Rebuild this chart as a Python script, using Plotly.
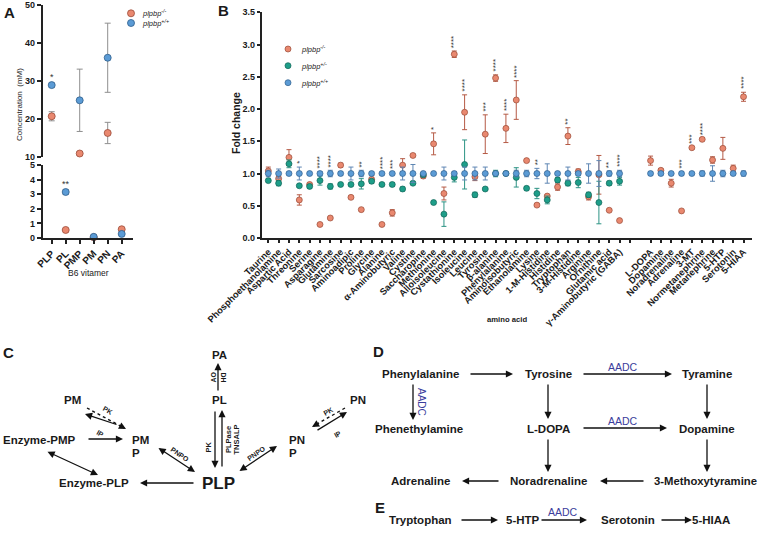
import math
import plotly.graph_objects as go

# ============================ DATA ============================
# Panel A : B6 vitamers (concentration, mM)
vitamers = ["PLP", "PL", "PMP", "PM", "PN", "PA"]
a_ko = [20.8, 0.55, 11.0, 0.05, 16.4, 0.60]
a_ko_err = [1.2, 0.05, 0.5, 0.02, 2.8, 0.06]
a_wt = [29.0, 3.15, 25.0, 0.08, 36.2, 0.28]
a_wt_err = [0.5, 0.15, 8.2, 0.02, 9.1, 0.06]
a_stars = ["*", "**", "", "", "", ""]
a_upper_ticks = [10, 20, 30, 40, 50]
a_lower_ticks = [0, 1, 2, 3, 4, 5]

# Panel B : amino acids (fold change)
aa_names = ["Taurine", "Phosphoethanolamine", "Aspartic Acid", "Threonine", "Serine",
            "Asparagine", "Glutamine", "Sarcosine", "Aminoadipic", "Proline", "Glycine",
            "Alanine", "α-Aminobutyric", "Valine", "Cystine", "Saccharopine", "Methionine",
            "Alloisoleucine", "Cystathionine", "Isoleucine", "Leucine", "Tyrosine",
            "β-alanine", "Phenylalanine", "Aminoisobutyric", "Ethanolamine", "Lysine",
            "1-M-Histidine", "Histidine", "Tryptophan", "3-M-Histidine", "Arginine",
            "Ornithine", "Glutamic acid", "γ-Aminobutyric (GABA)"]
aa_ko = [1.04, 0.92, 1.25, 0.59, 0.83, 0.21, 0.31, 1.13, 0.63, 0.44, 0.91, 0.21, 0.39,
         1.13, 1.28, 0.96, 1.46, 0.69, 2.85, 1.95, 0.95, 1.61, 2.48, 1.70, 2.14, 1.20,
         0.51, 0.65, 0.79, 1.58, 1.03, 0.64, 0.98, 0.43, 0.27]
aa_ko_err = [0.06, 0.04, 0.12, 0.08, 0.02, 0.01, 0.02, 0.03, 0.02, 0.02, 0.06, 0.01, 0.05,
             0.10, 0.02, 0.03, 0.17, 0.10, 0.05, 0.27, 0.06, 0.30, 0.05, 0.22, 0.30, 0.02,
             0.02, 0.02, 0.05, 0.13, 0.04, 0.05, 0.30, 0.01, 0.01]
aa_het = [0.89, 0.85, 1.15, 0.81, 0.80, 0.89, 0.80, 0.83, 0.83, 0.84, 0.88, 0.83, 0.83,
          0.76, 0.85, 0.98, 0.55, 0.37, 0.94, 1.14, 0.67, 0.76, 1.00, 1.00, 0.94, 0.77,
          0.69, 0.59, 0.90, 0.85, 0.86, 0.67, 0.55, 0.85, 0.88]
aa_het_err = [0.02, 0.04, 0.06, 0.02, 0.03, 0.07, 0.04, 0.02, 0.02, 0.08, 0.03, 0.02, 0.03,
              0.03, 0.02, 0.03, 0.02, 0.19, 0.07, 0.38, 0.04, 0.02, 0.05, 0.02, 0.15, 0.03,
              0.08, 0.06, 0.04, 0.04, 0.08, 0.04, 0.33, 0.03, 0.06]
aa_wt = [1.0, 1.0, 1.0, 1.0, 1.0, 1.0, 1.0, 1.0, 1.0, 1.0, 1.0, 1.0, 1.0, 1.0, 1.0, 1.0,
         1.0, 1.0, 1.0, 1.0, 1.0, 1.0, 1.0, 1.0, 1.0, 1.0, 1.0, 1.0, 1.0, 1.0, 1.0, 1.0,
         1.0, 1.0, 1.0]
aa_wt_err = [0.05, 0.07, 0.02, 0.10, 0.02, 0.03, 0.05, 0.03, 0.10, 0.05, 0.03, 0.02, 0.02,
             0.10, 0.14, 0.02, 0.02, 0.10, 0.03, 0.10, 0.10, 0.10, 0.03, 0.02, 0.05, 0.05,
             0.08, 0.15, 0.02, 0.10, 0.03, 0.15, 0.20, 0.04, 0.05]
aa_stars = ["", "", "", "*", "", "****", "****", "", "", "**", "", "****", "***", "", "",
            "", "*", "", "****", "****", "", "***", "****", "****", "****", "", "**", "",
            "", "**", "", "", "", "**", "****"]

# Panel B : neurotransmitters (fold change)
nt_names = ["L-DOPA", "Dopamine", "Noradrenaline", "Adrenaline", "3-MT",
            "Normetanephrine", "Metanephrine", "5-HTP", "Serotonin", "5-HIAA"]
nt_ko = [1.20, 1.05, 0.85, 0.42, 1.40, 1.53, 1.21, 1.39, 1.08, 2.19]
nt_ko_err = [0.07, 0.02, 0.06, 0.02, 0.02, 0.02, 0.05, 0.17, 0.05, 0.07]
nt_wt = [1.0, 1.0, 1.0, 1.0, 1.0, 1.0, 1.0, 1.0, 1.0, 1.0]
nt_wt_err = [0.03, 0.02, 0.01, 0.03, 0.01, 0.04, 0.12, 0.05, 0.02, 0.04]
nt_stars = ["", "", "", "***", "***", "****", "", "", "", "****"]
b_yticks = [0.0, 0.5, 1.0, 1.5, 2.0, 2.5, 3.0, 3.5]

# ============================ STYLE ============================
FONT = "Liberation Sans, Arial, Helvetica, sans-serif"
RED, RED_E, RED_BAR = "#E9886F", "#9A4A37", "#B55A45"
BLUE, BLUE_E, BLUE_BAR = "#5B9BD5", "#2F5E8C", "#5E86B3"
TEAL, TEAL_E, TEAL_BAR = "#1E9E89", "#116458", "#2C9384"
GREY_BAR = "#8F8F8F"
AXC = "#222222"
W, H = 760, 538

fig = go.Figure()

# ============================ PANEL A ============================
xa = list(range(len(vitamers)))
for vals, errs, fill, edge in [(a_ko, a_ko_err, RED, RED_E), (a_wt, a_wt_err, BLUE, BLUE_E)]:
    for xr, yr, lo, hi in [("x", "y", 10, 60), ("x2", "y2", -1, 5)]:
        v = [val if lo <= val <= hi else None for val in vals]
        fig.add_trace(go.Scatter(
            x=xa, y=v, xaxis=xr, yaxis=yr, mode="markers", showlegend=False,
            cliponaxis=False,
            marker=dict(size=7, color=fill, line=dict(color=edge, width=0.8)),
            error_y=dict(type="data", array=errs, color=GREY_BAR, thickness=1, width=3)))

annotations = []
for i, s in enumerate(a_stars):
    if not s:
        continue
    top = max(a_ko[i] + a_ko_err[i], a_wt[i] + a_wt_err[i])
    yr = "y" if top >= 10 else "y2"
    xr = "x" if top >= 10 else "x2"
    annotations.append(dict(x=i, y=top, xref=xr, yref=yr, text=s, showarrow=False,
                            yanchor="bottom", yshift=-1,
                            font=dict(family=FONT, size=9, color="#333")))

# ============================ PANEL B ============================
n_aa = len(aa_names)
x_aa = list(range(n_aa))
x_nt = [n_aa + 2 + i for i in range(len(nt_names))]
b_x = x_aa + x_nt
b_ko = aa_ko + nt_ko
b_ko_err = aa_ko_err + nt_ko_err
b_wt = aa_wt + nt_wt
b_wt_err = aa_wt_err + nt_wt_err

fig.add_trace(go.Scatter(
    x=b_x, y=b_ko, xaxis="x3", yaxis="y3", mode="markers", showlegend=False, cliponaxis=False,
    marker=dict(size=6, color=RED, line=dict(color=RED_E, width=0.7)),
    error_y=dict(type="data", array=b_ko_err, color=RED_BAR, thickness=1, width=2.5)))
fig.add_trace(go.Scatter(
    x=x_aa, y=aa_het, xaxis="x3", yaxis="y3", mode="markers", showlegend=False, cliponaxis=False,
    marker=dict(size=6, color=TEAL, line=dict(color=TEAL_E, width=0.7)),
    error_y=dict(type="data", array=aa_het_err, color=TEAL_BAR, thickness=1, width=2.5)))
fig.add_trace(go.Scatter(
    x=b_x, y=b_wt, xaxis="x3", yaxis="y3", mode="markers", showlegend=False, cliponaxis=False,
    marker=dict(size=6, color=BLUE, line=dict(color=BLUE_E, width=0.7)),
    error_y=dict(type="data", array=b_wt_err, color=BLUE_BAR, thickness=1, width=2.5)))

b_stars = aa_stars + nt_stars
b_het_top = [h + e for h, e in zip(aa_het, aa_het_err)] + [0] * len(nt_names)
for i, s in enumerate(b_stars):
    if not s:
        continue
    top = max(b_ko[i] + b_ko_err[i], b_wt[i] + b_wt_err[i], b_het_top[i])
    annotations.append(dict(x=b_x[i], y=top, xref="x3", yref="y3", text=s, showarrow=False,
                            textangle=-90, yanchor="bottom", xanchor="center", yshift=1,
                            font=dict(family=FONT, size=8, color="#333")))

b_tickvals = x_aa + [n_aa] + x_nt
b_ticktext = aa_names + [""] + nt_names

# ============================ OVERLAY (pixel space) ============================
shapes = []


def text(x, y, s, size=11.5, bold=True, angle=0, color="#1a1a1a", xanchor="center",
         yanchor="middle"):
    annotations.append(dict(x=x, y=y, xref="x4", yref="y4", text=s, showarrow=False,
                            textangle=angle, xanchor=xanchor, yanchor=yanchor,
                            font=dict(family=FONT, size=size, color=color,
                                      weight="bold" if bold else "normal")))


def arrow(x0, y0, x1, y1, both=False, width=1.3, color="#111"):
    d = dict(x=x1, y=y1, ax=x0, ay=y0, xref="x4", yref="y4", axref="x4", ayref="y4",
             text="", showarrow=True, arrowhead=2, arrowsize=1.1, arrowwidth=width,
             arrowcolor=color, standoff=0, startstandoff=0)
    if both:
        d.update(arrowside="end+start", startarrowhead=2, startarrowsize=1.1)
    annotations.append(d)


def dotted_arrow(x0, y0, x1, y1):
    L = math.hypot(x1 - x0, y1 - y0)
    ux, uy = (x1 - x0) / L, (y1 - y0) / L
    shapes.append(dict(type="line", xref="x4", yref="y4", x0=x0, y0=y0,
                       x1=x1 - ux * 4, y1=y1 - uy * 4,
                       line=dict(color="#111", width=1.4, dash="dot")))
    arrow(x1 - ux * 6, y1 - uy * 6, x1, y1)


# legend markers (pixel positions)
fig.add_trace(go.Scatter(x=[131, 131], y=[13.3, 23.0], xaxis="x4", yaxis="y4", mode="markers",
                         showlegend=False, hoverinfo="skip",
                         marker=dict(size=7, color=[RED, BLUE], line=dict(color=[RED_E, BLUE_E], width=0.8))))
fig.add_trace(go.Scatter(x=[288, 288, 288], y=[49, 65.7, 82.7], xaxis="x4", yaxis="y4",
                         mode="markers", showlegend=False, hoverinfo="skip",
                         marker=dict(size=6, color=[RED, TEAL, BLUE],
                                     line=dict(color=[RED_E, TEAL_E, BLUE_E], width=0.7))))
text(140, 13.3, "<i>plpbp<sup>-/-</sup></i>", size=7.5, bold=False, xanchor="left")
text(140, 23.0, "<i>plpbp<sup>+/+</sup></i>", size=7.5, bold=False, xanchor="left")
text(299, 49, "<i>plpbp<sup>-/-</sup></i>", size=7.5, bold=False, xanchor="left")
text(299, 65.7, "<i>plpbp<sup>+/-</sup></i>", size=7.5, bold=False, xanchor="left")
text(299, 82.7, "<i>plpbp<sup>+/+</sup></i>", size=7.5, bold=False, xanchor="left")

# axis titles
text(19.5, 104.5, "Concentration  (mM)", size=8, bold=False, angle=-90)
text(88, 273, "B6 vitamer", size=8.5, bold=False)
text(236, 123, "Fold change", size=10.5, angle=-90)
text(507, 319, "amino acid", size=7.7)

# panel letters
for lab, px, py in [("A", 9, 12), ("B", 223, 10.5), ("C", 8, 352), ("D", 378, 351), ("E", 380, 507)]:
    text(px, py, lab, size=15)

# ---------------- Panel C ----------------
text(219, 355, "PA")
text(219, 400, "PL")
text(72, 400, "PM")
text(358, 400, "PN")
text(39, 440, "Enzyme-PMP")
text(130, 440, "PM", xanchor="left")
text(130, 453, "P", xanchor="left")
text(287, 440, "PN", xanchor="left")
text(287, 453, "P", xanchor="left")
text(94, 483, "Enzyme-PLP")
text(218, 483, "PLP", size=17)

arrow(218, 392, 218, 363)                       # PL -> PA
text(212.5, 377, "AO", size=7, angle=-90)
text(223.5, 377, "DH", size=7, angle=90)
arrow(215, 410, 215, 468)                       # PL -> PLP (PK)
arrow(222, 468, 222, 410)                       # PLP -> PL
text(207.5, 447, "PK", size=7.5, angle=-90)
text(228, 440, "PLPase", size=7.5, angle=-90)
text(235.5, 440, "TNSALP", size=7.5, angle=-90)

dotted_arrow(87, 408, 126, 429)                 # PM -> PMP (PK)
arrow(118, 425, 85, 414)                        # PMP -> PM (IP)
text(108, 410, "PK", size=7, angle=30)
text(100, 433, "IP", size=7, angle=30)
arrow(87, 439, 123, 439)                        # Enzyme-PMP -> PMP
arrow(46, 451, 98, 475, both=True)              # Enzyme-PMP <-> Enzyme-PLP
arrow(157, 447, 195, 472, both=True)            # PMP <-> PLP
text(180, 454, "PNPO", size=7, angle=35)
arrow(238, 472, 277, 446, both=True)            # PLP <-> PNP
text(256, 453, "PNPO", size=7, angle=-35)
dotted_arrow(345, 408, 312, 427)                # PN -> PNP (PK)
arrow(316, 431, 347, 412)                       # PNP -> PN (IP)
text(328, 411, "PK", size=7, angle=-30)
text(337, 434, "IP", size=7, angle=-30)
arrow(195, 483, 140, 483)                       # PLP -> Enzyme-PLP

# ---------------- Panel D ----------------
AADC_C = "#3B3D9C"
for s, px, py in [("Phenylalanine", 420, 374), ("Tyrosine", 548, 374), ("Tyramine", 707, 374),
                  ("Phenethylamine", 419, 429), ("L-DOPA", 548, 429), ("Dopamine", 707, 429),
                  ("Adrenaline", 420, 481), ("Noradrenaline", 548, 481)]:
    text(px, py, s)
text(705, 481, "3-Methoxytyramine", size=11.3)
arrow(469, 374, 513, 374)
arrow(582, 374, 672, 374)
text(623, 367, "AADC", size=10.5, bold=False, color=AADC_C)
arrow(413, 383, 413, 420)
text(422, 402, "AADC", size=10, bold=False, color=AADC_C, angle=90)
arrow(548, 383, 548, 419)
arrow(707, 383, 707, 419)
arrow(582, 428, 667, 428)
text(623, 421, "AADC", size=10.5, bold=False, color=AADC_C)
arrow(548, 438, 548, 472)
arrow(707, 438, 707, 472)
arrow(645, 481, 600, 481)
arrow(500, 481, 462, 481)

# ---------------- Panel E ----------------
for s, px, py in [("Tryptophan", 420, 520), ("5-HTP", 523, 520), ("Serotonin", 628, 520),
                  ("5-HIAA", 711, 520)]:
    text(px, py, s)
arrow(460, 520, 498, 520)
arrow(540, 520, 587, 520)
text(563, 512, "AADC", size=10.5, bold=False, color=AADC_C)
arrow(660, 520, 692, 520)

# ============================ LAYOUT ============================
def px_x(p):
    return p / W


def px_y(p):
    return 1 - p / H


axis_common = dict(showgrid=False, zeroline=False, showline=True, linecolor=AXC, linewidth=1.8,
                   ticks="outside", ticklen=4, tickwidth=1.5, tickcolor=AXC, automargin=False)

a_xdom = [px_x(42.7), px_x(132.7)]
a_xrange = [-0.643, 5.786]

fig.update_layout(
    template="none",
    width=W, height=H, autosize=False,
    margin=dict(l=0, r=0, t=0, b=0, pad=0, autoexpand=False),
    paper_bgcolor="white", plot_bgcolor="rgba(0,0,0,0)",
    font=dict(family=FONT, color="#1a1a1a"),
    showlegend=False,
    hovermode=False,
    xaxis=dict(domain=a_xdom, range=a_xrange, visible=False, anchor="y", automargin=False),
    yaxis=dict(domain=[px_y(157.3), px_y(5.3)], range=[10, 50], tickvals=a_upper_ticks,
               anchor="x", tickfont=dict(size=9, weight="bold"), **axis_common),
    xaxis2=dict(domain=a_xdom, range=a_xrange, anchor="y2", tickvals=xa, ticktext=vitamers,
                tickangle=-45, tickfont=dict(size=10, weight="bold"), **axis_common),
    yaxis2=dict(domain=[px_y(238), px_y(165)], range=[0, 5], tickvals=a_lower_ticks,
                anchor="x2", tickfont=dict(size=9, weight="bold"), **axis_common),
    xaxis3=dict(domain=[px_x(261.7), px_x(752)], range=[-0.64, 46.82], anchor="y3",
                tickvals=b_tickvals, ticktext=b_ticktext, tickangle=-45,
                tickfont=dict(size=9.3, weight="bold"),
                **{**axis_common, "ticklen": 3}),
    yaxis3=dict(domain=[px_y(238), px_y(12.3)], range=[0, 3.5], tickvals=b_yticks,
                tickformat=".1f", anchor="x3", tickfont=dict(size=9, weight="bold"),
                **{**axis_common, "ticklen": 3}),
    xaxis4=dict(domain=[0, 1], range=[0, W], visible=False, anchor="y4", fixedrange=True,
                automargin=False),
    yaxis4=dict(domain=[0, 1], range=[H, 0], visible=False, anchor="x4", fixedrange=True,
                automargin=False),
    annotations=annotations,
    shapes=shapes,
)

fig.write_html("out.html", config={"displayModeBar": False},
               post_script="document.body.style.margin='0';document.body.style.overflow='hidden';")
